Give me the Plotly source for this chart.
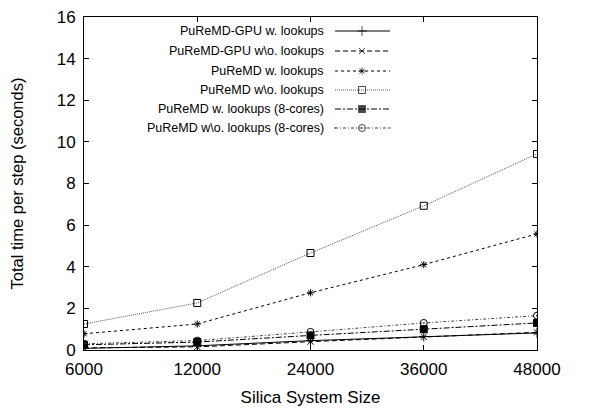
import plotly.graph_objects as go

sizes = ["6000", "12000", "24000", "36000", "48000"]
gpu_w = [0.08, 0.20, 0.45, 0.65, 0.82]
gpu_wo = [0.10, 0.15, 0.40, 0.63, 0.85]
puremd_w = [0.78, 1.25, 2.75, 4.10, 5.58]
puremd_wo = [1.25, 2.26, 4.66, 6.93, 9.42]
puremd8_w = [0.25, 0.38, 0.70, 1.00, 1.30]
puremd8_wo = [0.30, 0.45, 0.87, 1.30, 1.65]

names = ["PuReMD-GPU w. lookups", "PuReMD-GPU w\\o. lookups", "PuReMD w. lookups",
         "PuReMD w\\o. lookups", "PuReMD w. lookups (8-cores)", "PuReMD w\\o. lookups (8-cores)"]
series = [gpu_w, gpu_wo, puremd_w, puremd_wo, puremd8_w, puremd8_wo]
dashes = ["solid", "5px,3px", "3px,3px", "1px,1px", "6px,2px,2px,2px", "3px,2px,1px,2px"]
colors = ["#000", "#000", "#000", "#555", "#000", "#444"]
symbols = ["cross-thin-open", "x-thin-open", "asterisk-open", "square-open", "square", "circle-open-dot"]
msizes = [7, 6, 6, 7, 7, 7]

fig = go.Figure()
for nm, ys, d, c, s, ms in zip(names, series, dashes, colors, symbols, msizes):
    fig.add_trace(go.Scatter(x=sizes, y=ys, mode="lines+markers", name=nm,
                             line=dict(color=c, width=1, dash=d),
                             marker=dict(symbol=s, size=ms, color="#000",
                                         line=dict(color="#000", width=1)),
                             showlegend=False))

# manual legend (text right-aligned, sample on the right) like gnuplot
L, R, T, B = 84, 537, 17, 350
W, H = R - L, B - T
row_y = [31, 51, 71, 90, 109, 128]
for i, (nm, d, c, s, ms) in enumerate(zip(names, dashes, colors, symbols, msizes)):
    yy = 1 - (row_y[i] - T) / H
    x0, x1, xm = (335 - L) / W, (390 - L) / W, (362 - L) / W
    fig.add_trace(go.Scatter(x=[x0, xm, x1], y=[yy, yy, yy], xaxis="x2", yaxis="y2",
                             mode="lines+markers", showlegend=False, hoverinfo="skip",
                             line=dict(color=c, width=1, dash=d),
                             marker=dict(symbol=s, size=[0, ms, 0], color="#000",
                                         line=dict(color="#000", width=1))))
    fig.add_annotation(x=(326 - L) / W, y=yy, xref="x2", yref="y2", text=nm,
                       showarrow=False, xanchor="right", yanchor="middle",
                       font=dict(size=12.5, color="#000"))

fig.update_layout(
    width=599, height=409,
    margin=dict(l=L, r=599 - R, t=T, b=409 - B),
    paper_bgcolor="white", plot_bgcolor="white",
    font=dict(family="Liberation Sans, Arial, sans-serif", color="#000"),
    xaxis=dict(type="category", range=[0, 4], showgrid=False, zeroline=False, automargin=False,
               showline=True, linecolor="#000", linewidth=1, mirror="allticks",
               ticks="inside", ticklen=5, tickcolor="#000", ticklabelstandoff=4,
               tickfont=dict(size=17), title=dict(text="Silica System Size", font=dict(size=17), standoff=12)),
    yaxis=dict(range=[0, 16], dtick=2, showgrid=False, zeroline=False, automargin=False,
               showline=True, linecolor="#000", linewidth=1, mirror="allticks",
               ticks="inside", ticklen=5, tickcolor="#000", ticklabelstandoff=4,
               tickfont=dict(size=17), title=dict(text="Total time per step (seconds)", font=dict(size=16.5), standoff=28)),
    xaxis2=dict(range=[0, 1], overlaying="x", visible=False, anchor="y2"),
    yaxis2=dict(range=[0, 1], overlaying="y", visible=False, anchor="x2"),
)

fig.write_html("out.html")
